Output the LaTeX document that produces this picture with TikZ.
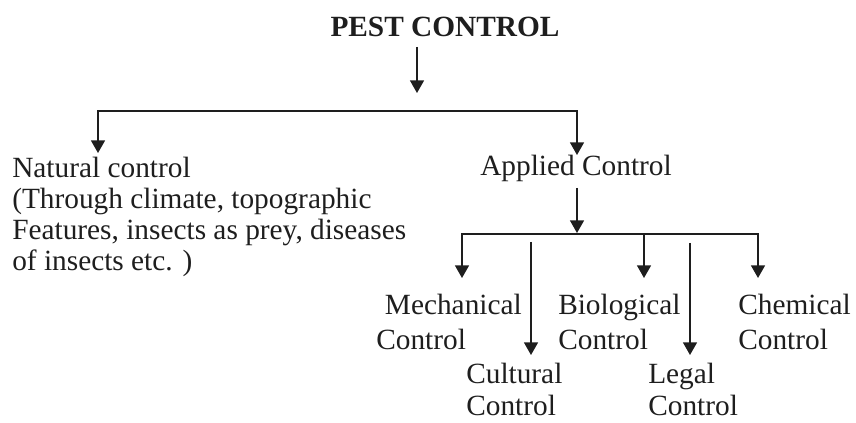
\documentclass[tikz,border=0pt]{standalone}
\usepackage{fontspec}
\setmainfont{Liberation Serif}
\usetikzlibrary{arrows.meta}
\definecolor{inkc}{HTML}{1E1E1E}
\tikzset{
  ar/.style={-{Triangle[length=9.5pt,width=10.5pt]},line width=1.2pt,inkc},
  dar/.style={{Triangle[length=9.5pt,width=10.5pt]}-{Triangle[length=9.5pt,width=10.5pt]},line width=1.2pt,inkc},
  lbl/.style={inner sep=0pt,align=left,text=inkc,font=\fontsize{22}{23.3}\selectfont},
  lblw/.style={lbl,font=\fontsize{22}{26.3}\selectfont},
  lbln/.style={lbl,font=\fontsize{22}{24}\selectfont}
}
\begin{document}
\begin{tikzpicture}[x=0.75pt,y=-0.75pt]
\useasboundingbox (0,0) rectangle (856,423);
% base anchor of a two- or four-line label sits on its last line
\node[lbl,anchor=base,font=\bfseries\fontsize{22}{24}\selectfont] (pest) at (445,37) {PEST CONTROL};
\node[lbl,anchor=base west] (nat) at (12,271) {Natural control\\(Through climate, topographic\\Features, insects as prey, diseases\\of insects etc. )};
\node[lbl,anchor=base west] (app) at (480,176) {Applied Control};
\node[lblw,anchor=base west] (mech) at (376,350) {\hspace*{6.5pt}Mechanical\\Control};
\node[lblw,anchor=base west] (bio) at (558,350) {Biological\\Control};
\node[lblw,anchor=base west] (chem) at (738,350) {Chemical\\Control};
\node[lbln,anchor=base west] (cult) at (466,416) {Cultural\\Control};
\node[lbln,anchor=base west] (legal) at (648,416) {Legal\\Control};
% first split
\coordinate (t0) at (417,47); \coordinate (t1) at (417,93);
\draw[ar] (t0) -- (t1);
\coordinate (nT) at (98,153); \coordinate (jL) at (98,111);
\coordinate (jR) at (577,111); \coordinate (aT) at (577,155);
\draw[dar] (nT) -- (jL) -- (jR) -- (aT);
% applied control split
\coordinate (g0) at (577,188); \coordinate (g1) at (577,233);
\draw[ar] (g0) -- (g1);
\coordinate (mT) at (462,278); \coordinate (hL) at (462,234);
\coordinate (hR) at (758,234); \coordinate (cT) at (758,278);
\draw[dar] (mT) -- (hL) -- (hR) -- (cT);
\foreach \n/\x/\a/\b in {bio/644/234/278,cul/531/242/355,leg/690/243/355}{
  \coordinate (\n s) at (\x,\a); \coordinate (\n e) at (\x,\b);
  \draw[ar] (\n s) -- (\n e);
}
\end{tikzpicture}
\end{document}
